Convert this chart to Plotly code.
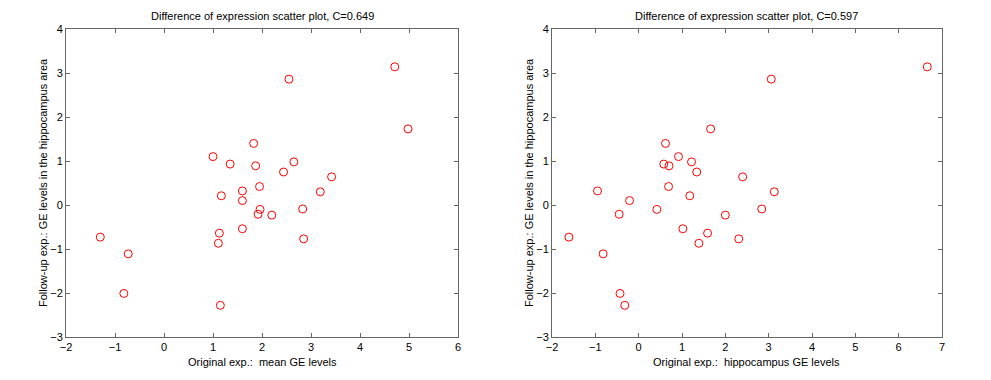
import plotly.graph_objects as go

# Shared follow-up values (y) for both panels
follow_up = [3.14, 2.86, 1.73, 1.40, 1.10, 0.93, 0.89, 0.98, 0.75, 0.64, 0.42, 0.32, 0.21, 0.10,
             0.30, -0.10, -0.21, -0.23, -0.09, -0.54, -0.64, -0.87, -0.77, -0.73, -1.11, -2.01, -2.28]
# Left panel x: mean GE levels
mean_ge = [4.71, 2.55, 4.98, 1.83, 1.00, 1.35, 1.87, 2.65, 2.44, 3.42, 1.95, 1.60, 1.17, 1.60,
           3.19, 1.96, 1.92, 2.20, 2.83, 1.60, 1.13, 1.11, 2.85, -1.30, -0.73, -0.82, 1.15]
# Right panel x: hippocampus GE levels
hippo_ge = [6.66, 3.06, 1.66, 0.62, 0.92, 0.58, 0.70, 1.22, 1.34, 2.40, 0.69, -0.95, 1.18, -0.21,
            3.13, 0.42, -0.45, 2.00, 2.84, 1.02, 1.59, 1.39, 2.31, -1.61, -0.82, -0.43, -0.32]

titles = ["Difference of expression scatter plot, C=0.649",
          "Difference of expression scatter plot, C=0.597"]
xlabels = ["Original exp.:  mean GE levels", "Original exp.:  hippocampus GE levels"]
ylabel = "Follow-up exp.: GE levels in the hippocampus area"
xranges = [[-2, 6], [-2, 7]]
yrange = [-3, 4]

W, H = 991, 380
OFF = 8  # default page body margin
FW, FH = W - 2 * OFF, H - 2 * OFF
FONT = "Liberation Sans"


def px(xp):
    return (xp - OFF) / FW


def py(yp):
    return 1 - (yp - OFF) / FH


fig = go.Figure()
marker = dict(symbol="circle-open", size=8, color="#ff0000", line=dict(width=1, color="#ff0000"))
fig.add_trace(go.Scatter(x=mean_ge, y=follow_up, mode="markers", marker=marker, xaxis="x", yaxis="y",
                         showlegend=False))
fig.add_trace(go.Scatter(x=hippo_ge, y=follow_up, mode="markers", marker=marker, xaxis="x2", yaxis="y2",
                         showlegend=False))

dom_x = [[px(66), px(458)], [px(552), px(942)]]
dom_y = [py(337), py(29)]

axis_common = dict(showgrid=False, zeroline=False, showline=True, linecolor="#666666", linewidth=1,
                   mirror="ticks", ticks="inside", ticklen=4, tickcolor="#666666", automargin=False,
                   tickfont=dict(family=FONT, size=11, color="#000000"))

fig.update_layout(
    width=FW, height=FH, margin=dict(l=0, r=0, t=0, b=0, autoexpand=False),
    paper_bgcolor="white", plot_bgcolor="white",
    xaxis=dict(domain=dom_x[0], range=xranges[0], dtick=1, anchor="y", **axis_common),
    yaxis=dict(domain=dom_y, range=yrange, dtick=1, anchor="x", **axis_common),
    xaxis2=dict(domain=dom_x[1], range=xranges[1], dtick=1, anchor="y2", **axis_common),
    yaxis2=dict(domain=dom_y, range=yrange, dtick=1, anchor="x2", **axis_common),
)

ann = []
for i in range(2):
    cx = (dom_x[i][0] + dom_x[i][1]) / 2
    left_px = 66 if i == 0 else 552
    ann.append(dict(text=titles[i], x=cx, y=py(16), xref="paper", yref="paper", showarrow=False,
                    font=dict(family=FONT, size=11, color="#000000"), xanchor="center", yanchor="middle"))
    ann.append(dict(text=xlabels[i], x=cx, y=py(362), xref="paper", yref="paper", showarrow=False,
                    font=dict(family=FONT, size=11, color="#000000"), xanchor="center", yanchor="middle"))
    ann.append(dict(text=ylabel, x=px(left_px - 23), y=(dom_y[0] + dom_y[1]) / 2,
                    xref="paper", yref="paper", showarrow=False, textangle=-90,
                    font=dict(family=FONT, size=11, color="#000000"), xanchor="center", yanchor="middle"))
fig.update_layout(annotations=ann)

fig.write_html("out.html")
